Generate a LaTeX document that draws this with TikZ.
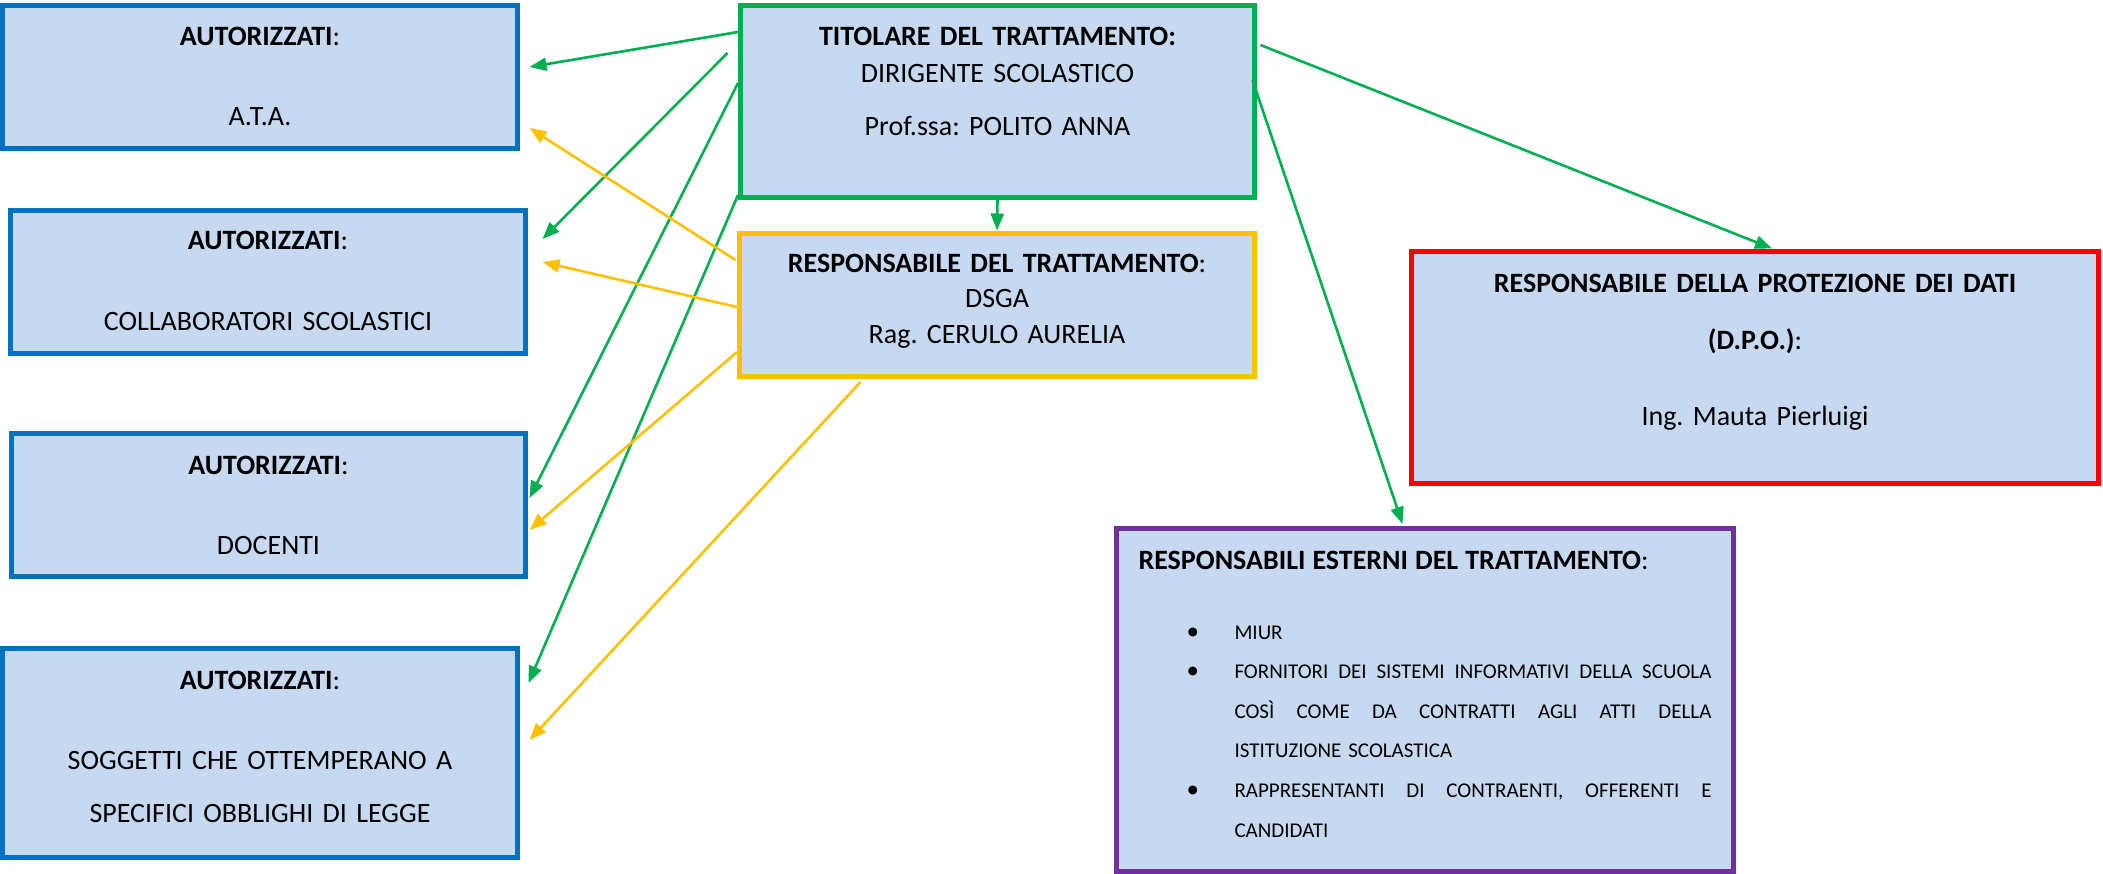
\documentclass[tikz,border=0pt]{standalone}
\usepackage{fontspec}
\setmainfont{Carlito}
\usepackage{tikz}
\usetikzlibrary{arrows.meta,calc}
\frenchspacing

\definecolor{boxfill}{HTML}{C6D9F1}
\definecolor{autblue}{HTML}{0070C0}
\definecolor{titgreen}{HTML}{00B050}
\definecolor{respyellow}{HTML}{FFC000}
\definecolor{dpored}{HTML}{FF0000}
\definecolor{extpurple}{HTML}{7030A0}

% justified line of the list
\newcommand{\justline}[1]{\makebox[238.5pt][s]{\spaceskip=0pt\xspaceskip=0pt #1}}
\newcommand{\listbullet}{\hspace*{24pt}\makebox[24pt][l]{{\fontsize{12.5}{12.5}\selectfont\textbullet}}}

\begin{document}
\begin{tikzpicture}[x=0.5pt, y=-0.5pt, every node/.style={align=center},
  box/.style={fill=boxfill, line width=2.5pt, anchor=north, inner sep=0pt,
    font=\fontsize{14}{17}\selectfont},
  link/.style={line width=1.3pt, -{Triangle[length=8.5pt,width=6.5pt]}}]

\useasboundingbox (0,0) rectangle (2103,873);

  % Autorizzati (left column)
  \node[box,draw=autblue,text width=257.5pt,text height=20.25pt,text depth=51.25pt] (ata) at (260,2.5) {
    \textbf{AUTORIZZATI}:\\[23pt]
    A.T.A.};

  \node[box,draw=autblue,text width=257.5pt,text height=19.75pt,text depth=51.75pt] (col) at (268,207.5) {
    \textbf{AUTORIZZATI}:\\[23.5pt]
    COLLABORATORI SCOLASTICI};

  \node[box,draw=autblue,text width=257pt,text height=20.75pt,text depth=50.75pt] (doc) at (268.5,430.5) {
    \textbf{AUTORIZZATI}:\\[23pt]
    DOCENTI};

  \node[box,draw=autblue,text width=257.5pt,text height=20.75pt,text depth=83.75pt] (sog) at (260,645.5) {
    \textbf{AUTORIZZATI}:\\[23pt]
    SOGGETTI CHE OTTEMPERANO A\\[9.5pt]
    SPECIFICI OBBLIGHI DI LEGGE};

  % Titolare (top middle)
  \node[box,draw=titgreen,text width=257pt,text height=20.25pt,text depth=75.75pt] (tit) at (997.5,2.5) {
    \textbf{TITOLARE DEL TRATTAMENTO:}\\[1.5pt]
    DIRIGENTE SCOLASTICO\\[9.5pt]
    Prof.ssa: POLITO ANNA};

  % Responsabile (below)
  \node[box,draw=respyellow,text width=257.5pt,text height=19.75pt,text depth=51.75pt] (resp) at (997,230.5) {
    \textbf{RESPONSABILE DEL TRATTAMENTO}:\\[0.5pt]
    DSGA\\[1pt]
    Rag. CERULO AURELIA};

  % D.P.O. (right)
  \node[box,draw=dpored,text width=343.5pt,text height=20.75pt,text depth=95.25pt] (dpo) at (1755,248.5) {
    \textbf{RESPONSABILE DELLA PROTEZIONE DEI DATI}\\[11.5pt]
    \textbf{(D.P.O.)}:\\[21pt]
    Ing. Mauta Pierluigi};

  % Responsabili esterni (bottom right)
  \node[box,draw=extpurple,align=left,inner xsep=11pt,text width=286.5pt,text height=20.75pt,text depth=150.75pt,
    font=\fontsize{10.5}{19.8}\selectfont] (est) at (1425,525.5) {
    {\fontsize{14}{17}\selectfont\textbf{RESPONSABILI ESTERNI DEL TRATTAMENTO}:}\\[15pt]
    \listbullet MIUR\\
    \listbullet\justline{FORNITORI DEI SISTEMI INFORMATIVI DELLA SCUOLA}\\
    \hspace*{48pt}\justline{COSÌ COME DA CONTRATTI AGLI ATTI DELLA}\\
    \hspace*{48pt}ISTITUZIONE SCOLASTICA\\
    \listbullet\justline{RAPPRESENTANTI DI CONTRAENTI, OFFERENTI E}\\
    \hspace*{48pt}CANDIDATI};

  % green links from the Titolare
  \draw[link,draw=titgreen] ($(tit.north west)+(0,29.5)$) -- ($(ata.north east)+(9.5,64.5)$);
  \draw[link,draw=titgreen] ($(tit.north west)+(-10.5,50.5)$) -- ($(col.north east)+(14.5,31.5)$);
  \draw[link,draw=titgreen] ($(tit.north west)+(0,80.5)$) -- ($(doc.north east)+(1.5,67.5)$);
  \draw[link,draw=titgreen] ($(tit.south west)+(0,-4.5)$) -- ($(sog.north east)+(8.5,37.5)$);
  \draw[link,draw=titgreen] (tit.south) -- (resp.north);
  \draw[link,draw=titgreen] ($(tit.north east)+(3.5,42.5)$) -- ($(dpo.north)+(17,0)$);
  \draw[link,draw=titgreen] ($(tit.north east)+(-4.5,77.5)$) -- ($(est.north west)+(288.5,-1.5)$);

  % yellow links from the Responsabile
  \draw[link,draw=respyellow] ($(resp.north west)+(-1.5,29.5)$) -- ($(ata.north east)+(9.5,125.5)$);
  \draw[link,draw=respyellow] ($(resp.north west)+(0,76.5)$) -- ($(col.north east)+(14.5,54.5)$);
  \draw[link,draw=respyellow] ($(resp.north west)+(0,121.5)$) -- ($(doc.north east)+(1.5,99.5)$);
  \draw[link,draw=respyellow] ($(resp.south west)+(123.5,3.5)$) -- ($(sog.north east)+(9.5,94.5)$);

\end{tikzpicture}
\end{document}
